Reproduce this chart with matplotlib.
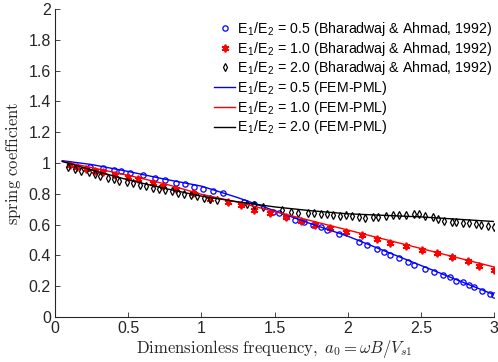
import matplotlib
matplotlib.use("Agg")
import matplotlib.pyplot as plt

plt.rcParams['font.family'] = ['Liberation Sans', 'DejaVu Sans']
plt.rcParams['mathtext.fontset'] = 'cm'

# Reference data (Bharadwaj & Ahmad, 1992)
x_b05 = [0.24, 0.33, 0.40, 0.45, 0.51, 0.60, 0.68, 0.75, 0.83, 0.89, 0.95, 1.01, 1.08, 1.15,
         1.29, 1.36, 1.49, 1.53, 1.58, 1.64, 1.70, 1.76, 1.82, 1.86, 1.94, 2.08, 2.13, 2.20,
         2.25, 2.29, 2.35, 2.41, 2.45, 2.53, 2.59, 2.65, 2.70, 2.74, 2.79, 2.83, 2.86, 2.92,
         2.97, 3.00]
y_b05 = [0.974, 0.968, 0.955, 0.948, 0.935, 0.922, 0.903, 0.890, 0.870, 0.864, 0.844, 0.831,
         0.818, 0.805, 0.747, 0.734, 0.680, 0.675, 0.650, 0.630, 0.617, 0.600, 0.584, 0.565,
         0.540, 0.490, 0.467, 0.440, 0.420, 0.400, 0.380, 0.360, 0.340, 0.310, 0.290, 0.270,
         0.260, 0.235, 0.227, 0.210, 0.195, 0.170, 0.150, 0.143]

x_b10 = [0.10, 0.15, 0.21, 0.27, 0.33, 0.41, 0.50, 0.57, 0.67, 0.74, 0.83, 0.94, 1.06, 1.18,
         1.27, 1.36, 1.47, 1.58, 1.68, 1.78, 1.88, 1.99, 2.10, 2.20, 2.29, 2.40, 2.51, 2.61,
         2.71, 2.82, 2.90, 3.00]
y_b10 = [0.990, 0.975, 0.960, 0.950, 0.940, 0.925, 0.910, 0.895, 0.870, 0.850, 0.830, 0.805,
         0.765, 0.747, 0.727, 0.695, 0.675, 0.650, 0.625, 0.600, 0.580, 0.550, 0.530, 0.505,
         0.480, 0.460, 0.435, 0.415, 0.390, 0.365, 0.330, 0.305]

x_b20 = [0.09, 0.14, 0.18, 0.23, 0.27, 0.31, 0.36, 0.40, 0.44, 0.49, 0.53, 0.58, 0.62, 0.67,
         0.71, 0.75, 0.80, 0.84, 0.88, 0.93, 0.97, 1.02, 1.06, 1.11,
         1.31, 1.36, 1.42, 1.55, 1.61, 1.66, 1.73, 1.77, 1.82, 1.86, 1.90, 1.95,
         1.99, 2.03, 2.08, 2.12, 2.17, 2.21, 2.26, 2.31, 2.35, 2.40, 2.45, 2.49, 2.53,
         2.58, 2.62, 2.66, 2.71, 2.74, 2.79, 2.83, 2.88, 2.91, 2.96, 3.00]
y_b20 = [0.975, 0.962, 0.950, 0.940, 0.928, 0.918, 0.905, 0.895, 0.885, 0.877, 0.868, 0.858,
         0.850, 0.840, 0.832, 0.824, 0.815, 0.808, 0.800, 0.792, 0.785, 0.775, 0.768, 0.760,
         0.735, 0.727, 0.714, 0.695, 0.680, 0.675, 0.675, 0.675, 0.670, 0.670, 0.662, 0.655,
         0.660, 0.656, 0.650, 0.642, 0.650, 0.650, 0.656, 0.662, 0.662, 0.662, 0.669, 0.669,
         0.656, 0.650, 0.636, 0.623, 0.617, 0.617, 0.610, 0.610, 0.604, 0.597, 0.590, 0.584]

# FEM-PML results
x_fem = [0.05, 0.25, 0.5, 0.75, 1.0, 1.25, 1.5, 1.75, 2.0, 2.25, 2.5, 2.75, 3.0]
y_f05 = [1.015, 0.990, 0.945, 0.895, 0.850, 0.775, 0.690, 0.605, 0.525, 0.430, 0.335, 0.240, 0.145]
y_f10 = [1.010, 0.970, 0.920, 0.865, 0.797, 0.745, 0.685, 0.625, 0.565, 0.505, 0.445, 0.385, 0.325]
y_f20 = [1.010, 0.955, 0.890, 0.835, 0.785, 0.748, 0.715, 0.690, 0.670, 0.660, 0.650, 0.635, 0.620]

x_ticks = [0, 0.5, 1, 1.5, 2, 2.5, 3]
x_ticklabels = ['0', '0.5', '1', '1.5', '2', '2.5', '3']
y_ticks = [0, 0.2, 0.4, 0.6, 0.8, 1, 1.2, 1.4, 1.6, 1.8, 2]
y_ticklabels = ['0', '0.2', '0.4', '0.6', '0.8', '1', '1.2', '1.4', '1.6', '1.8', '2']

fig = plt.figure(figsize=(4.98, 3.62), dpi=100)
ax = fig.add_axes([55/498, 1 - 317/362, (494 - 55)/498, (317 - 9)/362])

ax.plot(x_b05, y_b05, linestyle='none', marker='o', markersize=3.8, markerfacecolor='none',
        markeredgecolor='#0000ff', markeredgewidth=0.9,
        label=r'E$_\mathregular{1}$/E$_\mathregular{2}$ = 0.5 (Bharadwaj & Ahmad, 1992)')
ax.plot(x_b10, y_b10, linestyle='none', marker=(6, 2, 0), markersize=5.5, color='#ff0000',
        markeredgewidth=1.3,
        label=r'E$_\mathregular{1}$/E$_\mathregular{2}$ = 1.0 (Bharadwaj & Ahmad, 1992)')
ax.plot(x_b20, y_b20, linestyle='none', marker='d', markersize=4.2, markerfacecolor='none',
        markeredgecolor='black', markeredgewidth=0.9,
        label=r'E$_\mathregular{1}$/E$_\mathregular{2}$ = 2.0 (Bharadwaj & Ahmad, 1992)')
ax.plot(x_fem, y_f05, color='#0000ff', lw=1.0,
        label=r'E$_\mathregular{1}$/E$_\mathregular{2}$ = 0.5 (FEM-PML)')
ax.plot(x_fem, y_f10, color='#ff0000', lw=1.0,
        label=r'E$_\mathregular{1}$/E$_\mathregular{2}$ = 1.0 (FEM-PML)')
ax.plot(x_fem, y_f20, color='black', lw=1.0,
        label=r'E$_\mathregular{1}$/E$_\mathregular{2}$ = 2.0 (FEM-PML)')

ax.set_xlim(0, 3)
ax.set_ylim(0, 2)
ax.set_xticks(x_ticks)
ax.set_xticklabels(x_ticklabels)
ax.set_yticks(y_ticks)
ax.set_yticklabels(y_ticklabels)

gray = '#262626'
for s in ['top', 'right']:
    ax.spines[s].set_visible(False)
for s in ['left', 'bottom']:
    ax.spines[s].set_color(gray)
    ax.spines[s].set_linewidth(0.8)
ax.tick_params(direction='in', length=3.5, width=0.6, colors=gray, labelsize=11.5,
               labelcolor=gray, pad=3)

ax.set_xlabel(r'$\mathrm{Dimensionless\ frequency,}\ a_0 = \omega B/V_{s1}$',
              fontsize=12, color=gray, labelpad=1)
ax.set_ylabel(r'$\mathrm{spring\ coefficient}$', fontsize=12, color=gray, labelpad=4)

leg = ax.legend(loc='upper left', bbox_to_anchor=(214/498, 1 - 20/362),
                bbox_transform=fig.transFigure, frameon=False, fontsize=10.2,
                handlelength=1.5, handletextpad=0.15, borderpad=0, borderaxespad=0,
                labelspacing=0.12, markerscale=1.0)
for t in leg.get_texts():
    t.set_color('black')

fig.savefig('out.png', dpi=100)
